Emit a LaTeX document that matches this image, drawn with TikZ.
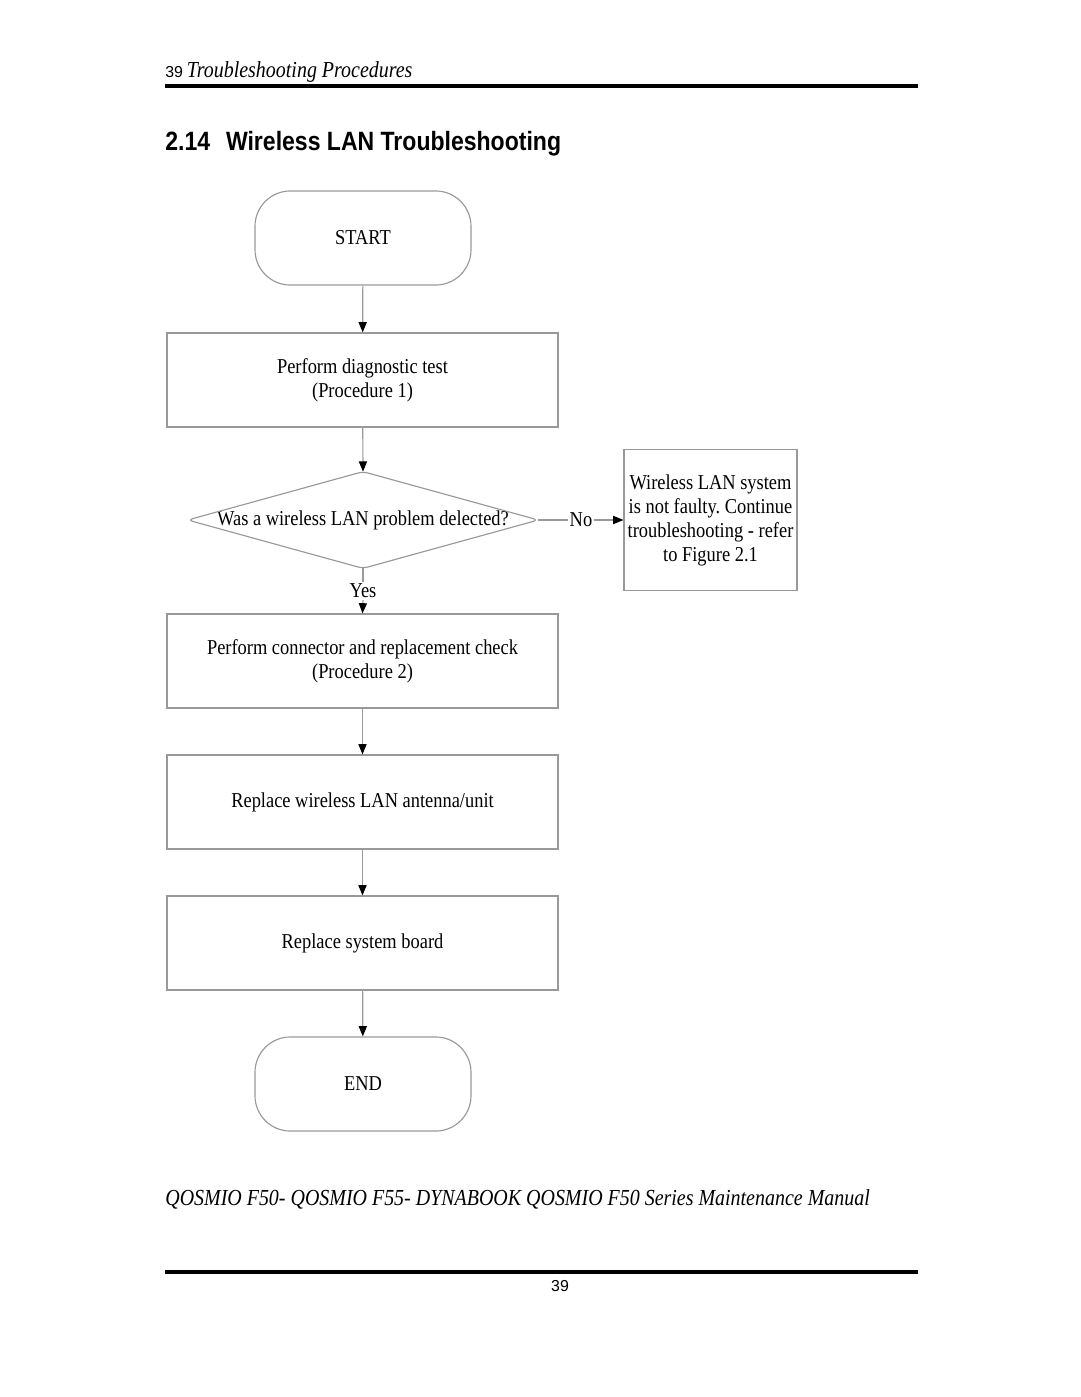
\documentclass[tikz,border=0pt]{standalone}
\usepackage{fontspec}
\setmainfont[FakeStretch=0.87]{Liberation Serif}
\newfontfamily\titlefont[FakeStretch=0.87]{Liberation Sans}
\newfontfamily\plainsans{Liberation Sans}
\usetikzlibrary{arrows.meta}
\frenchspacing
\begin{document}
\begin{tikzpicture}[x=0.5667pt,y=-0.5667pt,
  line/.style={draw=black!40,line width=0.65pt},
  arr/.style={line,-{Triangle[length=5.8pt,width=4.6pt,color=black]}},
  procbox/.style={line,rectangle,minimum width=221.6pt,minimum height=53.3pt,align=center,font=\fontsize{12}{13.6}\selectfont,inner sep=0pt},
  termbox/.style={line,rectangle,rounded corners=20pt,minimum width=122.4pt,minimum height=53.3pt,font=\fontsize{12}{13.6}\selectfont,inner sep=0pt},
  lbl/.style={font=\fontsize{12}{13.6}\selectfont,inner sep=1pt,align=center},
  rulebar/.style={line width=2.3pt,black}]
\useasboundingbox (0,0) rectangle (1080,1397);
% header
\node[anchor=base west,inner sep=0pt] (hdr) at (165,77) {{\plainsans\fontsize{9}{10}\selectfont 39} {\itshape\fontsize{13}{14}\selectfont Troubleshooting Procedures}};
\coordinate (r1a) at (165,86); \coordinate (r1b) at (918,86);
\draw[rulebar] (r1a) -- (r1b);
\node[anchor=base west,inner sep=0pt] (title) at (165,150) {\titlefont\bfseries\fontsize{15}{17}\selectfont 2.14\hspace{9pt}Wireless LAN Troubleshooting};
% flow
\node[termbox] (start) at (363,238) {START};
\node[procbox] (p1) at (362.5,380) {Perform diagnostic test\\(Procedure 1)};
\node[minimum width=198.3pt,minimum height=54.4pt,inner sep=0pt,font=\fontsize{12}{13.6}\selectfont] (dec) at (363,520) {Was a wireless LAN problem delected?};
\draw[line,rounded corners=3pt] (dec.north) -- (dec.east) -- (dec.south) -- (dec.west) -- cycle;
\node[lbl] (no) at (581,520) {No};
\node[procbox,minimum width=98pt,minimum height=79.9pt] (nf) at (710.5,520) {Wireless LAN system\\is not faulty. Continue\\troubleshooting - refer\\to Figure 2.1};
\node[lbl] (yes) at (363,591) {Yes};
\node[procbox] (p2) at (362.5,661) {Perform connector and replacement check\\(Procedure 2)};
\node[procbox] (p3) at (362.5,802) {Replace wireless LAN antenna/unit};
\node[procbox] (p4) at (362.5,943) {Replace system board};
\node[termbox] (end) at (363,1084) {END};
\draw[arr] (start) -- (p1);
\draw[arr] (p1) -- (dec.north);
\draw[line] (dec.east) -- (no.west);
\draw[arr] (no.east) -- (nf.west);
\draw[line] (dec.south) -- (yes.north);
\draw[arr] (yes.south) -- (p2.north);
\draw[arr] (p2) -- (p3);
\draw[arr] (p3) -- (p4);
\draw[arr] (p4) -- (end);
% footer
\node[anchor=base west,inner sep=0pt] (ftr) at (165,1205) {\itshape\fontsize{13}{14}\selectfont QOSMIO F50- QOSMIO F55- DYNABOOK QOSMIO F50 Series Maintenance Manual};
\coordinate (r2a) at (165,1272); \coordinate (r2b) at (918,1272);
\draw[rulebar] (r2a) -- (r2b);
\node[anchor=base,inner sep=0pt] (pg) at (560,1291) {\plainsans\fontsize{9}{10}\selectfont 39};
\end{tikzpicture}
\end{document}
